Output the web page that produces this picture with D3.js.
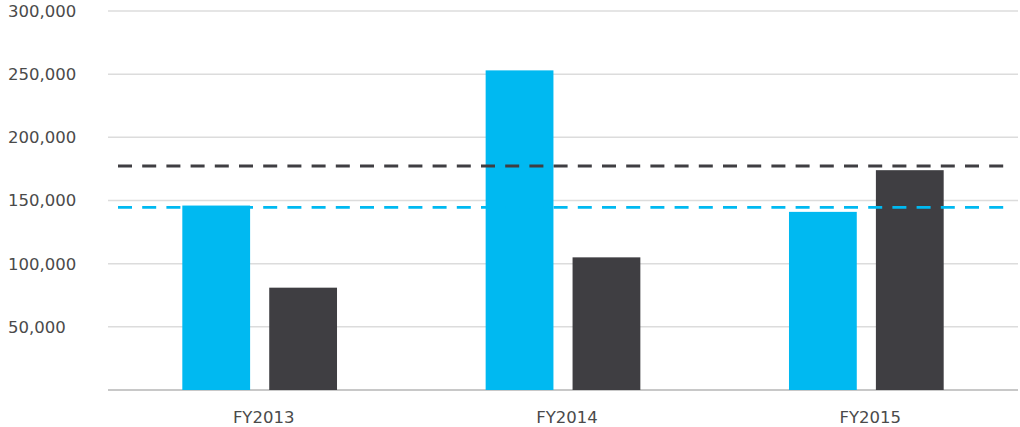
<!DOCTYPE html>
<html><head><meta charset="utf-8">
<script src="https://cdn.jsdelivr.net/npm/d3@7"></script>
<style>body{margin:0;background:#fff}svg{display:block}</style>
</head><body><svg id="c" width="1020" height="427"></svg>
<script>
const categories = ["FY2013", "FY2014", "FY2015"];
const seriesNames = ["A", "B"];
const seriesA = [146000, 253000, 141000];
const seriesB = [81000, 105000, 174000];
const avgA = 144600;
const avgB = 177300;
const yTicks = [50000, 100000, 150000, 200000, 250000, 300000];

const colors = {A: "#00b9f1", B: "#3f3e42"};
const svg = d3.select("#c");
const x0 = d3.scaleBand().domain(categories).range([108, 1018]).padding(0);
const bw = x0.bandwidth();
const x1 = d3.scaleBand().domain(seriesNames).range([bw * 0.245, bw * 0.755]).paddingInner(0.22);
const y = d3.scaleLinear().domain([0, 300000]).range([390, 11]);

// gridlines
svg.append("g").selectAll("line").data(yTicks).join("line")
  .attr("x1", 108).attr("x2", 1018)
  .attr("y1", d => y(d)).attr("y2", d => y(d))
  .attr("stroke", "#dcdcdc").attr("stroke-width", 1.5);
svg.append("line").attr("x1", 108).attr("x2", 1018)
  .attr("y1", y(0)).attr("y2", y(0)).attr("stroke", "#c8c8c8").attr("stroke-width", 2);

// y labels (left aligned)
svg.append("g").selectAll("text").data(yTicks).join("text")
  .attr("x", 8).attr("y", d => y(d)).attr("dy", "0.36em")
  .attr("font-family", "DejaVu Sans, sans-serif").attr("font-size", 16.5)
  .attr("fill", "#4a4a4a").text(d => d3.format(",")(d));

// bars
const rows = categories.map((c, i) => ({c, A: seriesA[i], B: seriesB[i]}));
const g = svg.append("g").selectAll("g").data(rows).join("g")
  .attr("transform", d => `translate(${x0(d.c)},0)`);
g.selectAll("rect").data(d => seriesNames.map(k => ({k, v: d[k]}))).join("rect")
  .attr("x", d => x1(d.k)).attr("width", x1.bandwidth())
  .attr("y", d => y(d.v)).attr("height", d => y(0) - y(d.v))
  .attr("fill", d => colors[d.k]);

// average dashed lines
[[avgB, colors.B], [avgA, colors.A]].forEach(([v, col]) => {
  svg.append("line").attr("x1", 118).attr("x2", 1006)
    .attr("y1", y(v)).attr("y2", y(v))
    .attr("stroke", col).attr("stroke-width", 2.8)
    .attr("stroke-dasharray", "14,10.2");
});

// x labels
svg.append("g").selectAll("text").data(categories).join("text")
  .attr("x", d => x0(d) + bw / 2 + 4).attr("y", 423)
  .attr("text-anchor", "middle")
  .attr("font-family", "DejaVu Sans, sans-serif").attr("font-size", 16.5)
  .attr("fill", "#4a4a4a").text(d => d);
</script></body></html>
